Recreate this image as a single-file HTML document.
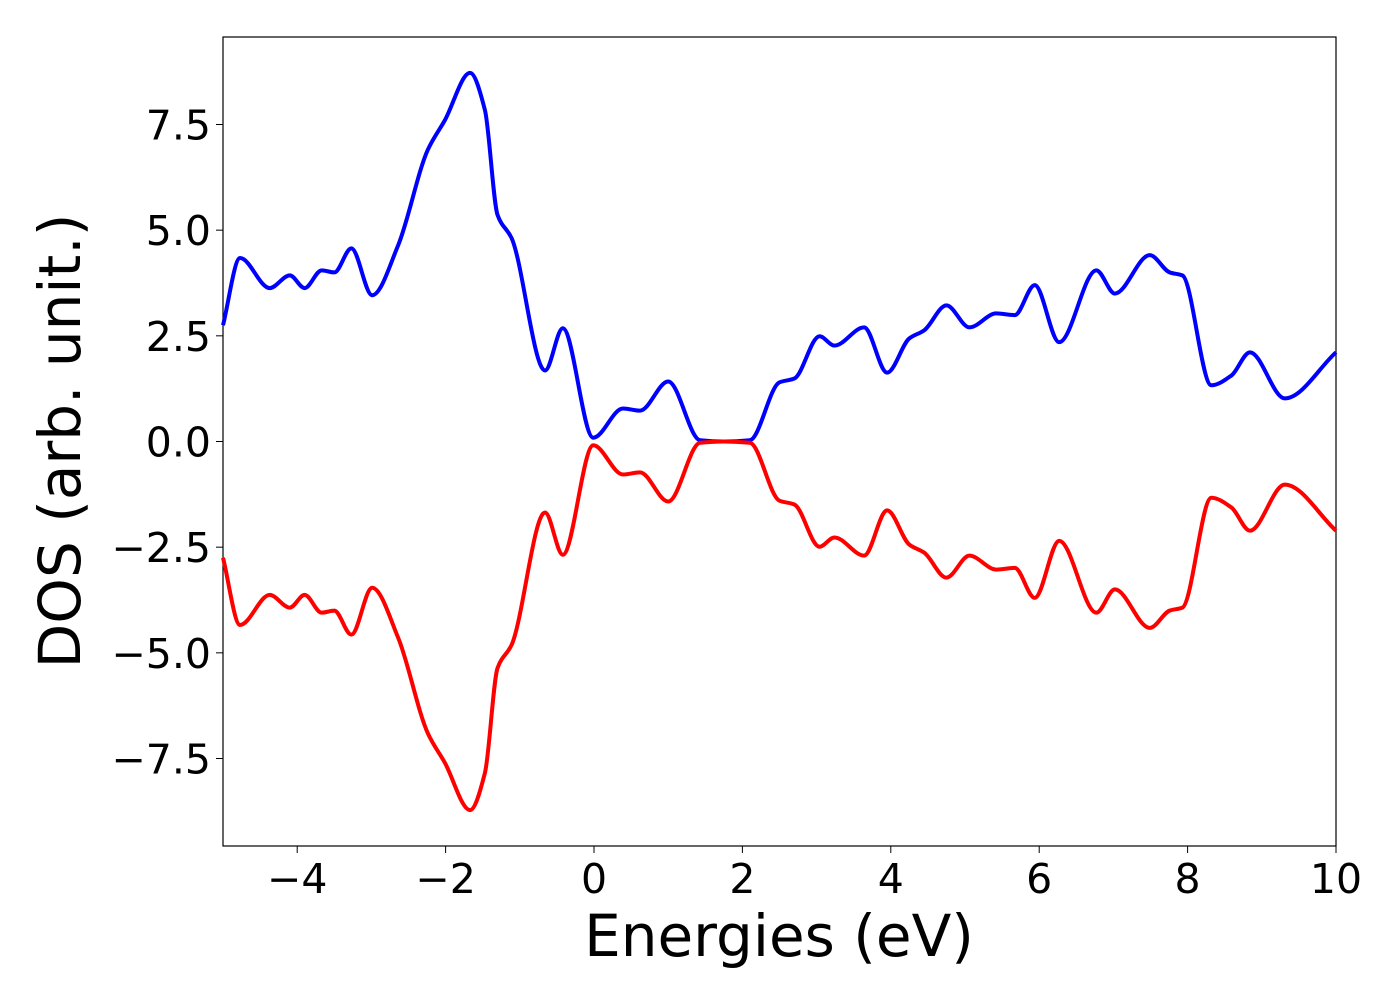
<!DOCTYPE html>
<html><head><meta charset="utf-8"><style>
html,body{margin:0;padding:0;background:#fff;}
svg{display:block;font-family:"DejaVu Sans","Liberation Sans",sans-serif;}
</style></head><body>
<svg id="chart" width="1400" height="1000">
<rect x="223" y="37" width="1113" height="809" fill="#fff" stroke="#000" stroke-width="1.2"/>
<g id="ticks"></g>
<g id="series"></g>
<text x="779" y="956" text-anchor="middle" font-size="58">Energies (eV)</text>
<text transform="translate(80,441) rotate(-90)" text-anchor="middle" font-size="58">DOS (arb. unit.)</text>
</svg>
<script>
const energies=[-5,-4.77,-4.37,-4.1,-3.9,-3.67,-3.5,-3.27,-2.99,-2.64,-2.24,-2.01,-1.67,-1.47,-1.3,-1.11,-0.66,-0.42,-0.01,0.39,0.62,1.0,1.43,1.75,2.1,2.5,2.7,3.04,3.24,3.64,3.95,4.25,4.45,4.75,5.06,5.42,5.67,5.94,6.27,6.77,7.02,7.49,7.76,7.93,8.32,8.59,8.84,9.31,10];
const dosUp=[2.75,4.34,3.63,3.93,3.63,4.05,4.0,4.57,3.46,4.64,6.9,7.6,8.72,7.84,5.36,4.81,1.68,2.68,0.09,0.78,0.73,1.42,0.03,0,0.03,1.4,1.49,2.49,2.27,2.7,1.63,2.44,2.63,3.22,2.7,3.03,2.99,3.7,2.35,4.05,3.5,4.41,4.0,3.93,1.33,1.56,2.11,1.02,2.11];
const dosDown=[-2.75,-4.34,-3.63,-3.93,-3.63,-4.05,-4.0,-4.57,-3.46,-4.64,-6.9,-7.6,-8.72,-7.84,-5.36,-4.81,-1.68,-2.68,-0.09,-0.78,-0.73,-1.42,-0.03,0,-0.03,-1.4,-1.49,-2.49,-2.27,-2.7,-1.63,-2.44,-2.63,-3.22,-2.7,-3.03,-2.99,-3.7,-2.35,-4.05,-3.5,-4.41,-4.0,-3.93,-1.33,-1.56,-2.11,-1.02,-2.11];
const xTicks=[-4,-2,0,2,4,6,8,10];
const yTicks=[-7.5,-5.0,-2.5,0.0,2.5,5.0,7.5];
const X0=223,X1=1336,Y0=37,Y1=846,xmin=-5,xmax=10,ymin=-9.57,ymax=9.57;
const sx=v=>X0+(v-xmin)/(xmax-xmin)*(X1-X0);
const sy=v=>Y1-(v-ymin)/(ymax-ymin)*(Y1-Y0);
const NS="http://www.w3.org/2000/svg";
const tg=document.getElementById('ticks');
const fmtY=v=>(v<0?"\u2212":"")+Math.abs(v).toFixed(1);
const fmtX=v=>(v<0?"\u2212":"")+Math.abs(v);
xTicks.forEach(t=>{
 const l=document.createElementNS(NS,'line');
 l.setAttribute('x1',sx(t));l.setAttribute('x2',sx(t));l.setAttribute('y1',Y1);l.setAttribute('y2',Y1+7);l.setAttribute('stroke','#000');
 
 
 tg.appendChild(l);
 const tx=document.createElementNS(NS,'text');
 tx.setAttribute('x',sx(t));tx.setAttribute('y',Y1+47);tx.setAttribute('text-anchor','middle');tx.setAttribute('font-size','41');
 tx.textContent=fmtX(t);
 
 
 tg.appendChild(tx);
});
yTicks.forEach(t=>{
 const l=document.createElementNS(NS,'line');
 l.setAttribute('x1',X0-7);l.setAttribute('x2',X0);l.setAttribute('y1',sy(t));l.setAttribute('y2',sy(t));l.setAttribute('stroke','#000');
 
 
 tg.appendChild(l);
 const tx=document.createElementNS(NS,'text');
 tx.setAttribute('x',X0-12);tx.setAttribute('y',sy(t)+15);tx.setAttribute('text-anchor','end');tx.setAttribute('font-size','41');
 tx.textContent=fmtY(t);
 
 
 tg.appendChild(tx);
});
function pathFor(xs,ys){
 const n=xs.length,px=xs.map(sx),py=ys.map(sy);
 const d=[],m=new Array(n);
 for(let i=0;i<n-1;i++)d.push((py[i+1]-py[i])/(px[i+1]-px[i]));
 m[0]=d[0];m[n-1]=d[n-2];
 for(let i=1;i<n-1;i++){
  if(d[i-1]*d[i]<=0)m[i]=0;
  else{const h0=px[i]-px[i-1],h1=px[i+1]-px[i];const w1=2*h1+h0,w2=h1+2*h0;m[i]=(w1+w2)/(w1/d[i-1]+w2/d[i]);}
 }
 let s="M"+px[0]+","+py[0];
 for(let i=0;i<n-1;i++){
  const h=(px[i+1]-px[i])/3;
  s+=` C${px[i]+h},${py[i]+m[i]*h} ${px[i+1]-h},${py[i+1]-m[i+1]*h} ${px[i+1]},${py[i+1]}`;
 }
 return s;
}
const sg=document.getElementById('series');
[[dosUp,'#0000ff','dos-spin-up-line'],[dosDown,'#ff0000','dos-spin-down-line']].forEach(([ys,c,n])=>{
 const pa=document.createElementNS(NS,'path');
 pa.setAttribute('d',pathFor(energies,ys));pa.setAttribute('fill','none');pa.setAttribute('stroke',c);pa.setAttribute('stroke-width','4');
 
 
 sg.appendChild(pa);
});
</script>
</body></html>
